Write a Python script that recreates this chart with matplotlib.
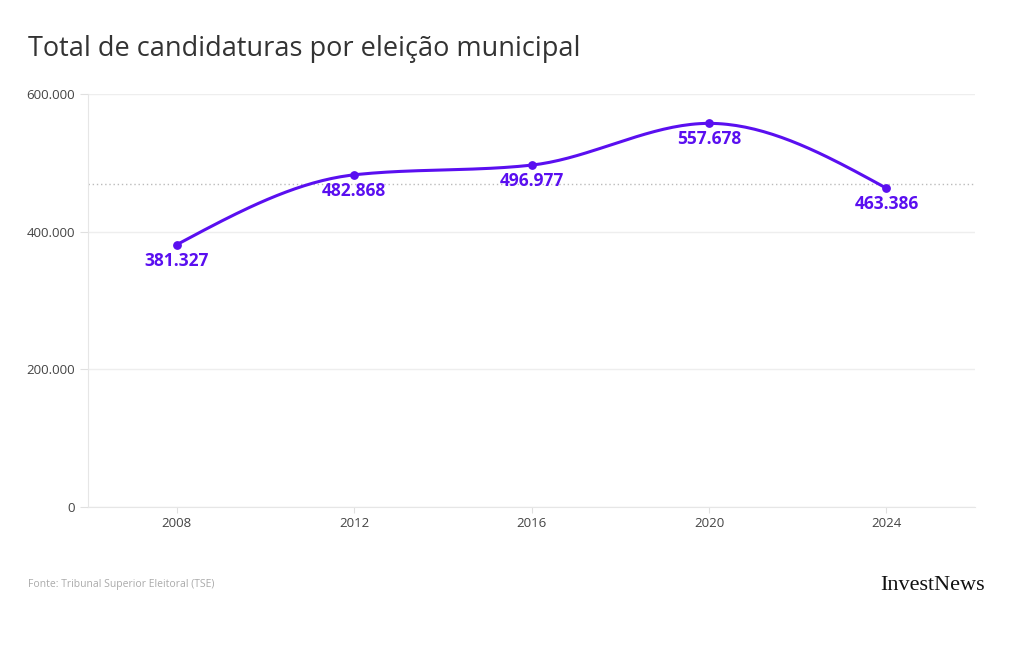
import numpy as np
import matplotlib.pyplot as plt
from matplotlib.ticker import FuncFormatter

# dados
anos = [2008, 2012, 2016, 2020, 2024]
candidaturas = [381327, 482868, 496977, 557678, 463386]
yticks = [0, 200000, 400000, 600000]
linha_ref = 470000  # linha pontilhada de referência

COR = "#5a0ff0"


def format_br(x, pos=None):
    return "{:,.0f}".format(x).replace(",", ".")


def monotone_x(xs, ys, n=40):
    # curva monotona (como d3.curveMonotoneX), apenas para desenho
    xs = np.asarray(xs, float)
    ys = np.asarray(ys, float)
    h = np.diff(xs)
    s = np.diff(ys) / h
    m = np.zeros(len(xs))
    for i in range(1, len(xs) - 1):
        p = (s[i - 1] * h[i] + s[i] * h[i - 1]) / (h[i - 1] + h[i])
        m[i] = (np.sign(s[i - 1]) + np.sign(s[i])) * min(abs(s[i - 1]), abs(s[i]), 0.5 * abs(p))
    m[0] = (3 * s[0] - m[1]) / 2
    m[-1] = (3 * s[-1] - m[-2]) / 2
    outx, outy = [], []
    t = np.linspace(0, 1, n)
    for i in range(len(xs) - 1):
        h00 = 2 * t ** 3 - 3 * t ** 2 + 1
        h10 = t ** 3 - 2 * t ** 2 + t
        h01 = -2 * t ** 3 + 3 * t ** 2
        h11 = t ** 3 - t ** 2
        outx.extend(xs[i] + t * h[i])
        outy.extend(h00 * ys[i] + h10 * h[i] * m[i] + h01 * ys[i + 1] + h11 * h[i] * m[i + 1])
    return np.array(outx), np.array(outy)


plt.rcParams["font.family"] = ["Open Sans", "DejaVu Sans"]

fig = plt.figure(figsize=(10.2, 6.5), dpi=100)
ax = fig.add_axes([0.0863, 0.22, 0.8697, 0.635])

sx, sy = monotone_x(anos, candidaturas)
ax.plot(sx, sy, color=COR, lw=2.2, zorder=3)
ax.scatter(anos, candidaturas, color=COR, s=28, zorder=4)

ax.axhline(linha_ref, color="#bbbbbb", lw=1, ls=(0, (1, 2)), zorder=2)

for a, v in zip(anos, candidaturas):
    ax.annotate(format_br(v), (a, v), xytext=(0, -5), textcoords="offset points",
                ha="center", va="top", color=COR, fontsize=12.5, fontweight="bold",
                zorder=5)

ax.set_xlim(2006, 2026)
ax.set_ylim(0, 600000)
ax.set_xticks(anos)
ax.set_yticks(yticks)
ax.yaxis.set_major_formatter(FuncFormatter(format_br))
ax.grid(axis="y", color="#eeeeee", lw=1)
ax.set_axisbelow(True)

for s in ["top", "right"]:
    ax.spines[s].set_visible(False)
for s in ["left", "bottom"]:
    ax.spines[s].set_color("#e6e6e6")
ax.tick_params(axis="both", colors="#e0e0e0", labelcolor="#444444", labelsize=9.5, length=4)
ax.tick_params(axis="y", length=6)

fig.text(0.027, 0.925, "Total de candidaturas por eleição municipal", fontsize=19.5,
         color="#333333", va="center")
fig.text(0.027, 0.1, "Fonte: Tribunal Superior Eleitoral (TSE)", fontsize=7.5,
         color="#aaaaaa", va="center")
fig.text(0.966, 0.1, "InvestNews", fontsize=16, family="Liberation Serif",
         color="#111111", va="center", ha="right")

plt.savefig("out.png", dpi=100)
